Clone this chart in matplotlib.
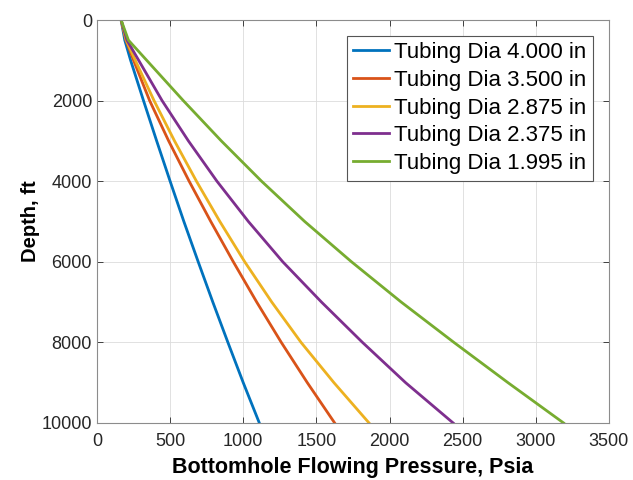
import numpy as np
import matplotlib
matplotlib.use("Agg")
import matplotlib.pyplot as plt

# Depth points (ft) and bottomhole flowing pressure (psia) for each tubing size
depth = [0, 500, 1000, 2000, 3000, 4000, 5000, 6000, 7000, 8000, 9000, 10000]

p_4000 = [165, 190, 230, 318, 408, 500, 594, 692, 792, 895, 1000, 1110]
p_3500 = [165, 198, 250, 360, 490, 630, 778, 932, 1092, 1260, 1438, 1625]
p_2875 = [165, 200, 262, 390, 530, 680, 840, 1010, 1195, 1395, 1620, 1860]
p_2375 = [165, 205, 285, 445, 625, 820, 1035, 1270, 1535, 1815, 2110, 2435]
p_1995 = [165, 215, 340, 590, 850, 1125, 1420, 1740, 2080, 2440, 2810, 3190]

labels = ["Tubing Dia 4.000 in", "Tubing Dia 3.500 in", "Tubing Dia 2.875 in",
          "Tubing Dia 2.375 in", "Tubing Dia 1.995 in"]
colors = ["#0072BD", "#D95319", "#EDB120", "#7E2F8E", "#77AC30"]

plt.rcParams['font.family'] = ['Liberation Sans', 'DejaVu Sans']

fig = plt.figure(figsize=(6.33, 4.8), dpi=100)
ax = fig.add_axes([0.1532, 0.1188, 0.962 - 0.1532, 0.9583 - 0.1188])

for p, lab, c in zip([p_4000, p_3500, p_2875, p_2375, p_1995], labels, colors):
    ax.plot(p, depth, color=c, linewidth=2, label=lab)

ax.set_xlim(0, 3500)
ax.set_ylim(10000, 0)
ax.set_xticks(np.arange(0, 3501, 500))
ax.set_yticks(np.arange(0, 10001, 2000))

# MATLAB-like look
ax.grid(True, color='#dcdcdc', linewidth=0.6)
ax.tick_params(direction='in', top=True, right=True, labelsize=13,
               colors='#262626', length=4, width=0.6)
ax.tick_params(axis='x', pad=7)
for s in ax.spines.values():
    s.set_color('#8c8c8c')
    s.set_linewidth(0.8)

ax.set_xlabel("Bottomhole Flowing Pressure, Psia", fontsize=15.5,
              fontweight='bold', labelpad=5)
ax.set_ylabel("Depth, ft", fontsize=14.5, fontweight='bold', labelpad=1)

leg = ax.legend(loc='upper right', fontsize=16, handlelength=1.6,
                handletextpad=0.25, labelspacing=0.3, borderaxespad=0.7,
                borderpad=0.3, fancybox=False, framealpha=1)
leg.get_frame().set_edgecolor('#555555')
leg.get_frame().set_linewidth(0.8)

fig.savefig("out.png", dpi=100)
